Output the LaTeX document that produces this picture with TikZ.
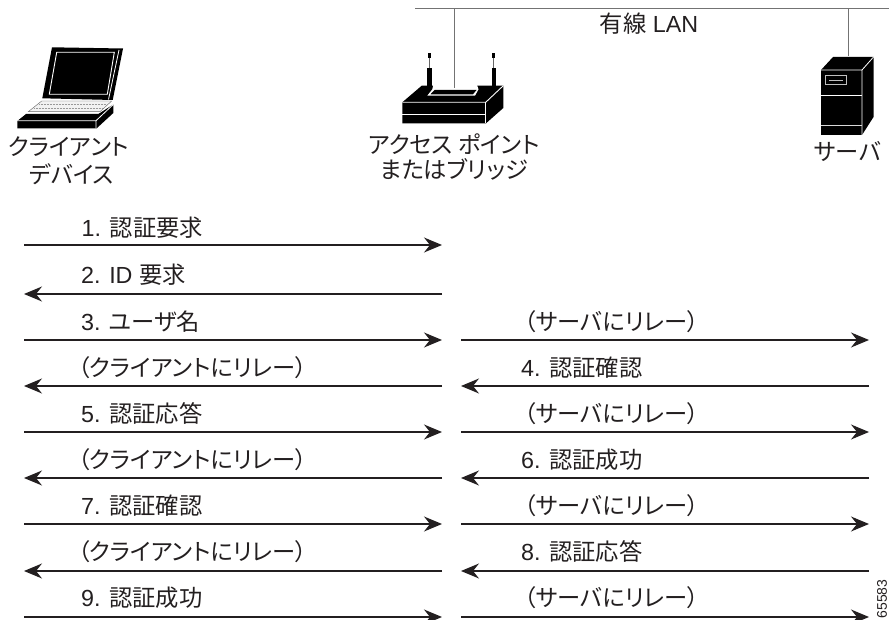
\documentclass[tikz,border=0pt]{standalone}
\usepackage{fontspec}
\setmainfont{Liberation Sans}
\newfontfamily\cjk[RawFeature={+palt}]{Noto Sans CJK JP}
\usetikzlibrary{arrows.meta}
\newcommand{\J}[1]{{\cjk #1}}
\definecolor{txt}{HTML}{231F20}
\tikzset{
  msg/.style={line width=1.3pt,txt,-{Stealth[length=18pt,width=15pt,inset=6pt]}},
  lan/.style={line width=1pt,black!55},
  lbl/.style={inner sep=0pt,text=txt,font=\fontsize{23.3}{25}\selectfont},
  msgl/.style={lbl,anchor=base west},
  msgc/.style={lbl,anchor=base},
}
\begin{document}
\begin{tikzpicture}[x=1pt,y=-1pt]
\useasboundingbox (0,0) rectangle (889,620);
% laptop
\fill[black] (52,47.3) -- (123,48.5) -- (112.7,100) -- (42.3,98.3) -- cycle;
\draw[white,line width=0.9pt] (56.7,52.3) -- (114.3,52.3) -- (107.3,94.3) -- (49.3,94.3) -- cycle;
\draw[white,line width=0.8pt] (119,50) -- (108.5,99.5);
\fill[gray!10,draw=black!60,line width=0.4pt] (41.7,101) -- (111.7,101) -- (100,111.7) -- (28.3,111.7) -- cycle;
\draw[black!40,line width=0.5pt,densely dotted] (39,104) -- (107,104) (34,108) -- (103,108);
\fill[black] (26,114) -- (98.3,114) -- (113.3,104.5) -- (113.3,113) -- (96.7,128.3) -- (17.3,128.3) -- (17.3,121) -- cycle;
\draw[white,line width=0.8pt] (17.3,120.7) -- (96,120.7) -- (96,128.3) (96,120.7) -- (113.3,104.5);
% access point
\fill[black] (427.5,53) rectangle (430.5,58);
\fill[black] (427.3,68) rectangle (431.7,86);
\draw[black!60,line width=1pt] (429,58) -- (429,68);
\fill[black] (491.5,53) rectangle (494.5,58);
\fill[black] (491.7,68) rectangle (496,86);
\draw[black!60,line width=1pt] (493,58) -- (493,68);
\fill[black] (421.7,85.7) -- (503.3,85.7) -- (503.3,108) -- (486,123.3) -- (402.3,123.3) -- (402.3,102.3) -- cycle;
\fill[white] (433.3,85) -- (477,85) -- (478.5,89.3) -- (475,95.7) -- (427.3,95.7) -- (432.3,89.3) -- cycle;
\fill[black] (434.5,90) -- (476.5,90) -- (473,94.3) -- (430.5,94.3) -- cycle;
\draw[white,line width=0.9pt] (402.3,102.3) -- (485.7,102.3) -- (503.3,85.7);
\draw[white,line width=0.9pt] (402.3,114.3) -- (485.7,114.3);
\draw[white,line width=0.9pt] (485.7,102.3) -- (485.7,123.3);
% server
\fill[black] (821,70) -- (833,57) -- (873.5,57) -- (873.5,117) -- (862,135) -- (821,135) -- cycle;
\draw[white,line width=0.8pt] (821,70) -- (862,70) -- (873.5,57) (862,70) -- (862,135);
\draw[white,line width=0.8pt] (821,95) -- (862,95);
\draw[white!85!black,line width=0.8pt] (821,125) -- (862,125);
\draw[white!75!black,line width=0.9pt] (825.5,75.5) rectangle (846.5,84.5);
\draw[white!75!black,line width=0.9pt] (829,80) -- (843,80);
% LAN
\coordinate (lanl) at (415,9);
\coordinate (lanr) at (889,9);
\coordinate (tapa) at (454.5,9);
\coordinate (tapb) at (454.5,88);
\coordinate (tsva) at (848,9);
\coordinate (tsvb) at (848,56);
\draw[lan] (lanl) -- (lanr);
\draw[lan] (tapa) -- (tapb);
\draw[lan] (tsva) -- (tsvb);
\node[msgc] (lanlabel) at (649,32.5) {\J{有線} LAN};
% device labels
\node[msgc] (cl1) at (68.5,155.5) {\J{クライアント}};
\node[msgc] (cl2) at (71.5,183.5) {\J{デバイス}};
\node[msgc] (ap1) at (454,153.5) {\J{アクセス ポイント}};
\node[msgc] (ap2) at (454,178.5) {\J{またはブリッジ}};
\node[msgc] (sv) at (847.5,160.5) {\J{サーバ}};
% message endpoints
\foreach \n/\y in {1/245,2/294,3/340,4/386,5/432,6/478,7/524,8/571,9/617}{
  \coordinate (cl\n) at (24,\y);
  \coordinate (apl\n) at (442,\y);
  \coordinate (apr\n) at (461,\y);
  \coordinate (sv\n) at (869,\y);
}
\draw[msg] (cl1) -- (apl1);
\draw[msg] (apl2) -- (cl2);
\draw[msg] (cl3) -- (apl3);
\draw[msg] (apr3) -- (sv3);
\draw[msg] (apl4) -- (cl4);
\draw[msg] (sv4) -- (apr4);
\draw[msg] (cl5) -- (apl5);
\draw[msg] (apr5) -- (sv5);
\draw[msg] (apl6) -- (cl6);
\draw[msg] (sv6) -- (apr6);
\draw[msg] (cl7) -- (apl7);
\draw[msg] (apr7) -- (sv7);
\draw[msg] (apl8) -- (cl8);
\draw[msg] (sv8) -- (apr8);
\draw[msg] (cl9) -- (apl9);
\draw[msg] (apr9) -- (sv9);
% message labels
\node[msgl] (m1) at (81.5,236.5) {1. \J{認証要求}};
\node[msgl] (m2) at (81,283.5) {2. ID \J{要求}};
\node[msgl] (m3) at (81,330.5) {3. \J{ユーザ名}};
\node[msgc] (r3) at (611.5,330.5) {\J{（サーバにリレー）}};
\node[msgc] (r4l) at (192.5,376.5) {\J{（クライアントにリレー）}};
\node[msgl] (m4) at (521,376.5) {4. \J{認証確認}};
\node[msgl] (m5) at (81,422.5) {5. \J{認証応答}};
\node[msgc] (r5) at (611.5,422.5) {\J{（サーバにリレー）}};
\node[msgc] (r6l) at (192.5,468.5) {\J{（クライアントにリレー）}};
\node[msgl] (m6) at (521,468.5) {6. \J{認証成功}};
\node[msgl] (m7) at (81,514.5) {7. \J{認証確認}};
\node[msgc] (r7) at (611.5,514.5) {\J{（サーバにリレー）}};
\node[msgc] (r8l) at (192.5,560.5) {\J{（クライアントにリレー）}};
\node[msgl] (m8) at (521,560.5) {8. \J{認証応答}};
\node[msgl] (m9) at (81,606.5) {9. \J{認証成功}};
\node[msgc] (r9) at (611.5,606.5) {\J{（サーバにリレー）}};
\node[inner sep=0pt,rotate=90,text=txt,font=\fontsize{14}{14}\selectfont] (fig) at (882,599) {65583};
\end{tikzpicture}
\end{document}
